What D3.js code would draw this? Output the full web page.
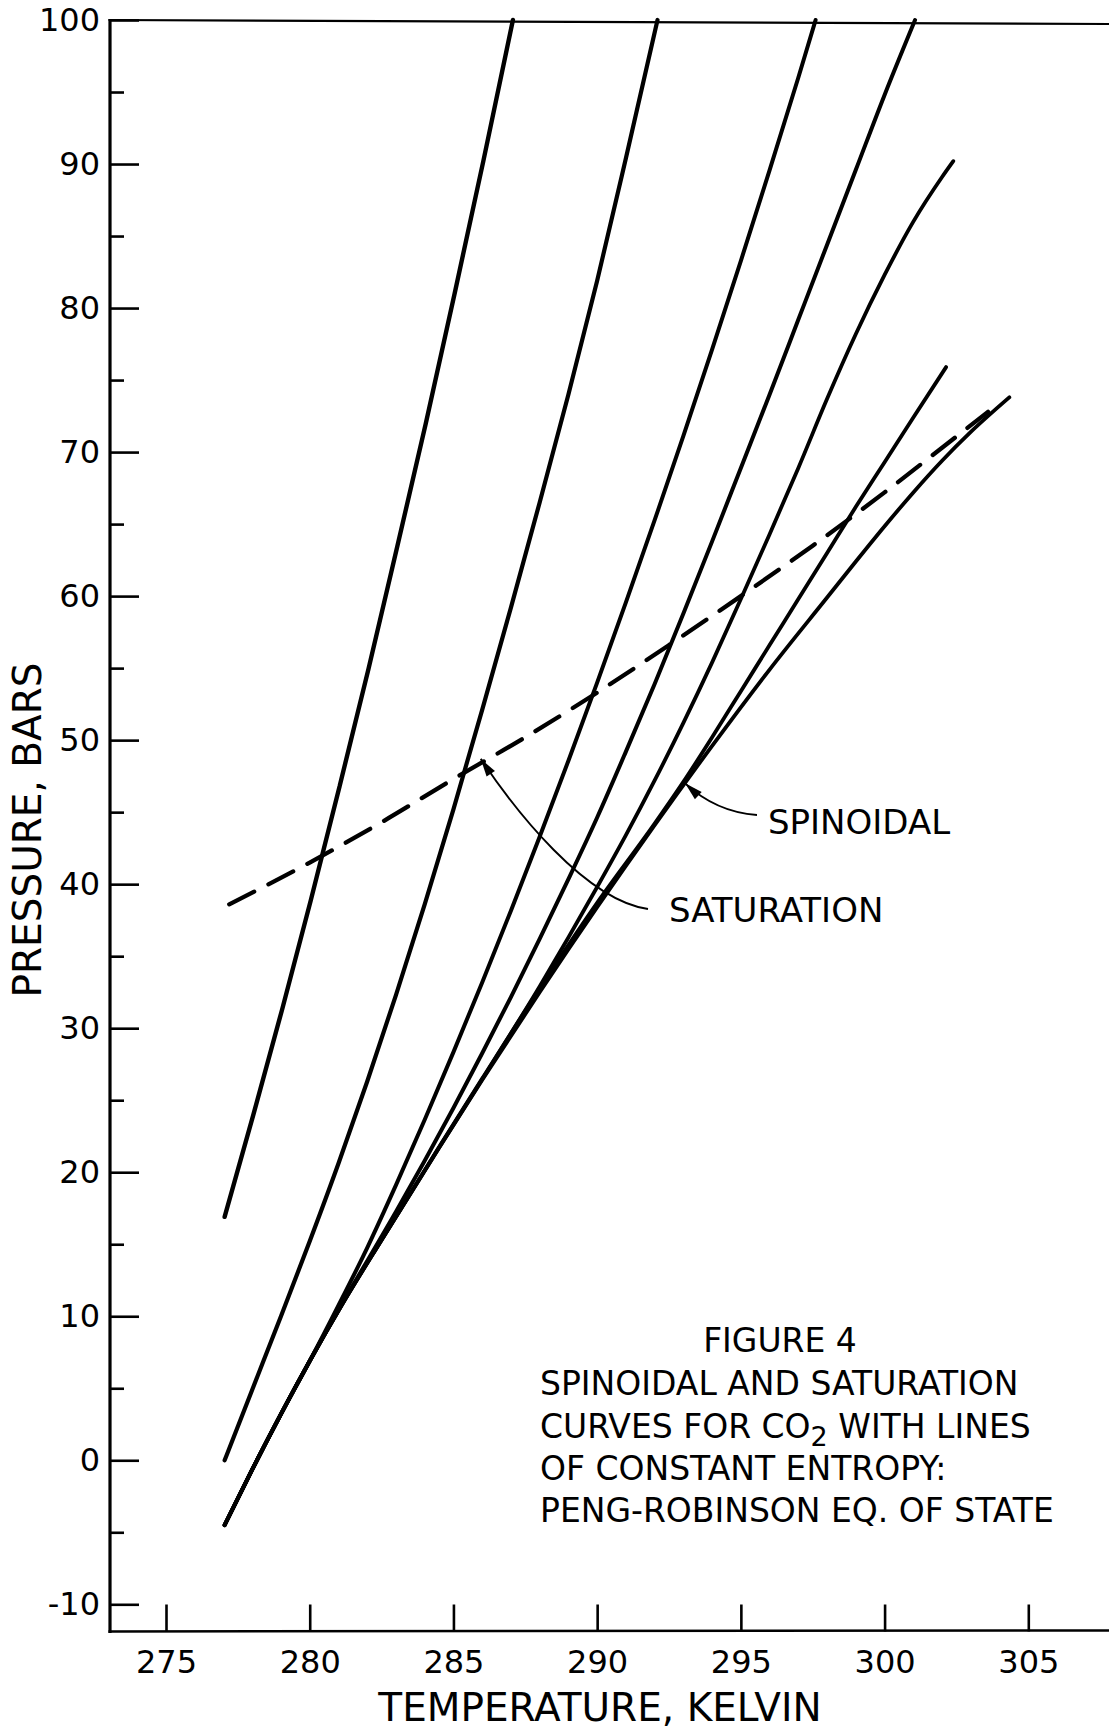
<!DOCTYPE html>
<html>
<head>
<meta charset="utf-8">
<script src="https://cdn.jsdelivr.net/npm/d3@7"></script>
<style>
  body { margin: 0; background: #fff; }
  svg text { font-family: "DejaVu Sans", sans-serif; fill: #000; }
</style>
</head>
<body>
<svg id="chart"></svg>
<script>
// axis ticks
const tempTicks = [275, 280, 285, 290, 295, 300, 305]
const pressTicks = [-10, 0, 10, 20, 30, 40, 50, 60, 70, 80, 90, 100]
const pressMinorTicks = [-5, 5, 15, 25, 35, 45, 55, 65, 75, 85, 95]

// lines of constant entropy, [temperature K, pressure bar]
const isentropeA = [[277.04,16.9],[278.04,24.0],[279.04,31.3],[280.04,38.9],[281.04,46.8],[282.04,54.9],[283.04,63.4],[284.04,72.0],[285.04,81.0],[286.04,90.2],[287.07,100]]
const isentropeB = [[277.04,0],[278,4.9],[279,10.0],[280,15.2],[281,20.6],[282,26.3],[283,32.3],[284,38.6],[285,45.2],[286,52.1],[287,59.2],[288,66.5],[289,74.0],[290,81.9],[291,90.4],[292.1,100]]
// the lower isentropes start on the spinodal and run along it before leaving it
const isentropeC = [[277.04,-4.5],[278,-0.64],[279,3.21],[280,6.89],[281,10.75],[282,14.75],[283,19.1],[284,23.64],[285,28.34],[286,33.18],[287,38.16],[288,43.29],[289,48.57],[290,53.99],[291,59.56],[292,65.27],[293,71.12],[294,77.13],[295,83.28],[296,89.57],[297,96.01],[297.6,100]]
const isentropeD = [[277.04,-4.5],[278,-0.64],[279,3.21],[280,6.89],[281.1,10.8],[282,13.83],[283,17.25],[284,20.8],[285,24.46],[286,28.26],[287,32.16],[288,36.2],[289,40.35],[290,44.63],[291,49.2],[292,53.9],[293,58.8],[294,63.8],[295,68.9],[296,74.0],[297,79.2],[298,84.4],[299,89.6],[300,94.8],[301.06,100]]
const isentropeE = [[277.04,-4.5],[278,-0.64],[279,3.21],[280,6.89],[281.1,10.73],[282.5,15.3],[284.5,21.7],[286,26.45],[288,32.9],[289,36.3],[290,39.8],[291,43.4],[292,47.2],[293,51.2],[294,55.4],[295,59.8],[296,64.3],[297,68.9],[298,73.7],[299,78.2],[300,82.3],[301,86.0],[302,89.1],[302.39,90.2]]
const isentropeF = [[277.04,-4.5],[278,-0.64],[279,3.21],[280,6.89],[281.1,10.73],[282.5,15.3],[284.5,21.75],[286,26.5],[288,32.75],[290,38.7],[292,44.2],[293,47.1],[294,50.2],[295,53.4],[296,56.6],[297,59.8],[298,63.0],[299,66.2],[300,69.3],[301,72.4],[302.14,75.9]]
const spinodal = [[277.04,-4.5],[278,-0.64],[279,3.21],[280,6.89],[281.1,10.73],[282.5,15.3],[284.5,21.7],[286,26.4],[288,32.5],[290,38.4],[292,44.1],[294,49.6],[296,54.9],[298,59.9],[299,62.4],[300,64.85],[301,67.2],[302,69.4],[303,71.4],[304.34,73.8]]
const saturation = [[277.2,38.6],[280,41.5],[282.5,44.3],[285,47.3],[287.5,50.2],[290,53.3],[292.5,56.6],[295,60.0],[297.5,63.5],[300,67.2],[302,70.3],[303.6,72.8]]

const captionLines = ["SPINOIDAL AND SATURATION", "CURVES FOR CO", "OF CONSTANT ENTROPY:", "PENG-ROBINSON EQ. OF STATE"]

const width = 1109, height = 1730

let svg = d3.select("#chart")
    .attr("width", width)
    .attr("height", height)

svg.append("rect").attr("width", width).attr("height", height).style("fill", "#fff")

let x = d3.scaleLinear().domain([275, 305]).range([166, 1028.3])
let y = d3.scaleLinear().domain([-10, 100]).range([1604.3, 20])

const axisX = 110, axisY = 1631.5

let g = svg.append("g")

// frame: left axis, bottom axis, top line (no right side in the original)
g.append("line").attr("x1", axisX).attr("x2", axisX).attr("y1", y(100) - 1).attr("y2", axisY + 1.5)
    .style("stroke", "#000").style("stroke-width", 3.2)
g.append("line").attr("x1", axisX - 1.5).attr("x2", width).attr("y1", axisY).attr("y2", axisY - 1)
    .style("stroke", "#000").style("stroke-width", 2.5)
g.append("line").attr("x1", axisX - 1.5).attr("x2", width).attr("y1", y(100)).attr("y2", y(100) + 4)
    .style("stroke", "#000").style("stroke-width", 2.2)

// y axis, ticks pointing into the plot
g.append("g")
    .attr("transform", "translate(" + axisX + ",0)")
    .call(d3.axisLeft(y).tickValues(pressTicks).tickSize(-29).tickPadding(10).tickFormat(d => d.toString()))
g.append("g")
    .attr("transform", "translate(" + axisX + ",0)")
    .call(d3.axisLeft(y).tickValues(pressMinorTicks).tickSize(-14).tickFormat(""))

// x axis, ticks pointing up
g.append("g")
    .attr("transform", "translate(0," + axisY + ")")
    .call(d3.axisBottom(x).tickValues(tempTicks).tickSize(-27).tickPadding(19).tickFormat(d => d.toString()))

g.selectAll(".domain").remove()
g.selectAll(".tick line").style("stroke", "#000").style("stroke-width", 2.6)
g.selectAll(".tick text").style("font-size", "32px").style("font-family", "DejaVu Sans, sans-serif").style("fill", "#000")

// axis titles
g.append("text")
    .attr("x", 600).attr("y", 1721)
    .attr("text-anchor", "middle")
    .style("font-size", "39px")
    .text("TEMPERATURE, KELVIN")
g.append("text")
    .attr("transform", "translate(27,830)rotate(-90)")
    .attr("text-anchor", "middle")
    .attr("dominant-baseline", "central")
    .style("font-size", "39px")
    .text("PRESSURE, BARS")

// curves
let line = d3.line()
    .x(d => x(d[0]))
    .y(d => y(d[1]))
    .curve(d3.curveMonotoneX)

let curveLayer = g.append("g")
const solids = [
    { pts: isentropeA, w: 4.4 },
    { pts: isentropeB, w: 4.2 },
    { pts: isentropeC, w: 4.0 },
    { pts: isentropeD, w: 4.0 },
    { pts: isentropeE, w: 3.8 },
    { pts: isentropeF, w: 3.8 },
    { pts: spinodal, w: 3.8 }
]
curveLayer.selectAll("path.iso").data(solids)
    .enter().append("path")
    .classed("iso", true)
    .attr("d", d => line(d.pts))
    .style("fill", "none")
    .style("stroke", "#000")
    .style("stroke-width", d => d.w)
    .style("stroke-linecap", "round")

curveLayer.append("path")
    .attr("d", line(saturation))
    .style("fill", "none")
    .style("stroke", "#000")
    .style("stroke-width", 4.3)
    .style("stroke-dasharray", "28,16")
    .style("stroke-linecap", "round")

// leader lines with arrow heads
const arrowHead = (tip, from) => {
    let dx = tip[0] - from[0], dy = tip[1] - from[1]
    let len = Math.sqrt(dx * dx + dy * dy)
    let ux = dx / len, uy = dy / len
    let L = 18, W = 5
    let bx = tip[0] - ux * L, by = tip[1] - uy * L
    return "M" + tip[0] + "," + tip[1] +
        "L" + (bx - uy * W) + "," + (by + ux * W) +
        "L" + (bx + uy * W) + "," + (by - ux * W) + "Z"
}

let spinTip = [x(293.06), y(47.0)]
let spinCtrl = [716, 812]
g.append("path")
    .attr("d", "M757,815Q" + spinCtrl[0] + "," + spinCtrl[1] + " " + spinTip[0] + "," + spinTip[1])
    .style("fill", "none").style("stroke", "#000").style("stroke-width", 1.9)
g.append("path").attr("d", arrowHead(spinTip, spinCtrl)).style("fill", "#000")

let satTip = [x(285.95), y(48.7)]
let satCtrl = [515, 810]
g.append("path")
    .attr("d", "M648,909C585,900 " + satCtrl[0] + "," + satCtrl[1] + " " + satTip[0] + "," + satTip[1])
    .style("fill", "none").style("stroke", "#000").style("stroke-width", 1.9)
g.append("path").attr("d", arrowHead(satTip, satCtrl)).style("fill", "#000")

g.append("text").attr("x", 768).attr("y", 834).style("font-size", "34px").text("SPINOIDAL")
g.append("text").attr("x", 669).attr("y", 922).style("font-size", "34px").text("SATURATION")

// caption block
g.append("text").attr("x", 780).attr("y", 1352).attr("text-anchor", "middle")
    .style("font-size", "33px").text("FIGURE 4")
let cap = g.append("g").style("font-size", "33px")
cap.append("text").attr("x", 540).attr("y", 1395).text(captionLines[0])
let co2 = cap.append("text").attr("x", 540).attr("y", 1438)
co2.append("tspan").text(captionLines[1])
co2.append("tspan").attr("dy", 8).style("font-size", "27px").text("2")
co2.append("tspan").attr("dy", -8).text(" WITH LINES")
cap.append("text").attr("x", 540).attr("y", 1480).text(captionLines[2])
cap.append("text").attr("x", 540).attr("y", 1522).text(captionLines[3])
</script>
</body>
</html>
